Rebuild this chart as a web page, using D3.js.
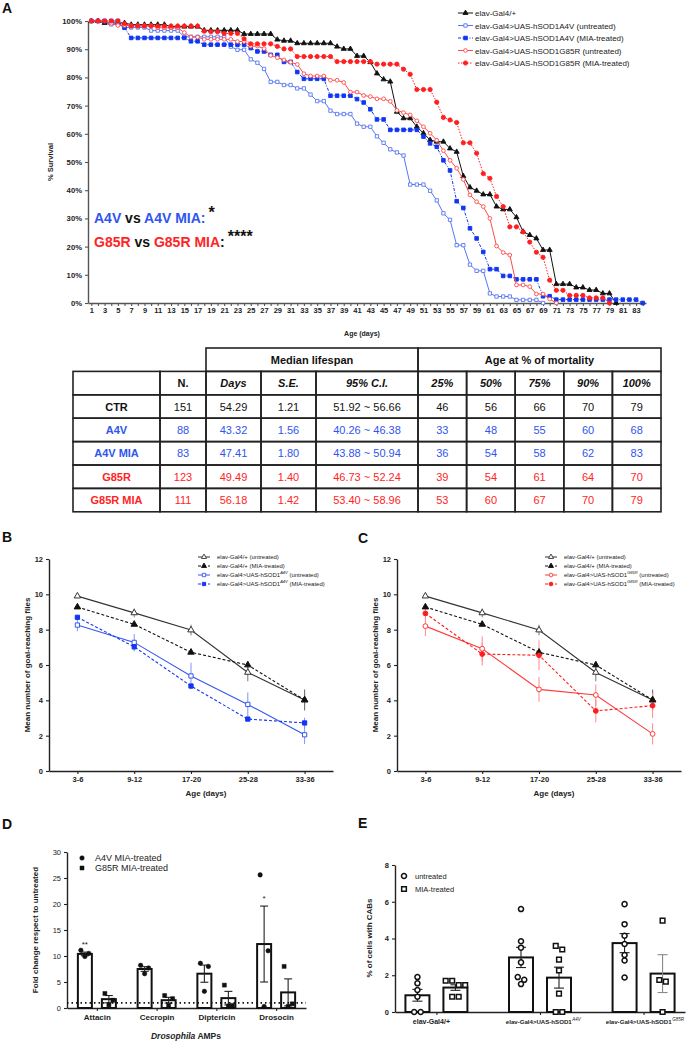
<!DOCTYPE html>
<html lang="en">
<head>
  <meta charset="UTF-8">
  <title>hSOD1 flies: survival, climbing, AMPs and CABs</title>
  <script src="https://d3js.org/d3.v7.min.js"></script>
  <style>
    body { margin: 0; background: #fff; }
    svg { display: block; font-family: "Liberation Sans", Arial, sans-serif; }
  </style>
</head>
<body>
<script>
  // ---------- A: survival (% alive, one value per day starting at day 1) ----------
  const survCtr = [100,100,99.3,99.3,99.3,99.3,98.7,98.7,98.7,98.7,
    98.7,98.7,98.0,98.0,98.0,98.0,98.0,96.7,96.7,96.7,
    96.7,96.7,96.7,95.4,95.4,95.4,95.4,95.4,93.4,93.0,
    93.0,92.1,92.1,92.1,92.1,92.1,92.1,90.9,90.1,90.1,
    87.6,87.6,85.4,81.4,79.3,78.5,67.8,65.5,65.5,62.5,
    60.2,57.8,57.2,57.2,54.8,53.6,45.0,41.0,39.8,38.5,
    38.5,34.2,33.2,33.2,30.4,25.3,24.1,22.9,18.8,18.8,
    6.7,6.7,6.7,5.5,5.5,4.6,4.6,3.4,3.4,0];
  const survA4V = [100,100,100,98.8,98.8,97.7,97.7,97.7,97.7,96.6,
    96.6,96.6,96.6,96.6,94.4,94.4,94.4,94.4,94.4,94.4,
    94.4,90.9,89.8,89.8,86.4,85.2,83.0,78.4,78.4,77.3,
    77.3,76.1,76.1,73.9,71.6,71.6,68.2,67.0,67.0,67.0,
    63.6,62.5,62.5,59.1,56.8,54.5,53.4,52.3,42.0,42.0,
    42.0,39.8,36.4,31.8,29.5,20.5,20.5,13.6,11.4,11.4,
    3.4,2.3,2.3,2.3,1.1,1.1,1.1,1.1,0];
  const survA4VMIA = [100,100,100,100,100,97.6,94.0,94.0,94.0,94.0,
    94.0,94.0,94.0,94.0,94.0,92.8,92.8,91.6,91.6,91.6,
    91.6,91.6,91.6,91.6,90.4,89.2,89.2,88.0,88.0,85.5,
    85.5,81.9,79.5,79.5,79.5,79.5,73.5,73.5,73.5,73.5,
    72.3,71.1,68.7,65.1,65.1,61.4,61.4,61.4,61.4,61.4,
    59.0,56.6,55.4,50.6,47.0,36.1,33.7,26.5,22.9,18.1,
    12.0,12.0,9.6,9.6,8.4,8.4,8.4,8.4,2.4,2.4,
    1.2,1.2,1.2,1.2,1.2,1.2,1.2,1.2,1.2,1.2,
    1.2,1.2,1.2,0];
  const survG85R = [100,100,100,99.2,98.4,98.4,98.4,98.4,98.4,98.4,
    97.6,97.6,97.6,97.6,95.9,94.3,94.3,93.5,93.5,93.5,
    93.5,93.5,92.7,92.7,91.1,91.1,90.2,87.8,87.0,86.2,
    85.4,84.6,81.3,80.5,80.5,80.5,79.0,79.0,78.2,74.8,
    74.8,73.6,73.2,72.4,72.4,71.5,68.3,67.5,66.7,64.6,
    62.5,60.2,57.7,54.0,50.6,47.8,43.8,38.3,35.9,34.2,
    30.0,20.2,17.9,17.0,6.4,6.4,5.8,3.2,3.2,1.4,0];
  const survG85RMIA = [100,100,100,100,100,99.1,98.2,98.2,98.2,98.2,
    98.2,98.2,98.2,98.2,98.2,98.2,98.2,96.4,96.2,96.2,
    95.6,95.6,95.6,93.7,91.9,91.9,91.9,91.9,91.0,90.1,
    90.1,87.4,87.4,87.4,87.4,87.4,87.4,85.6,85.6,85.6,
    85.6,85.6,85.6,84.7,84.7,84.7,84.7,82.9,81.1,75.7,
    75.7,75.7,71.2,65.8,64.9,64.0,56.8,56.8,53.1,45.9,
    44.2,37.8,34.2,27.0,27.0,25.2,21.6,18.0,16.2,8.1,
    4.5,4.5,2.7,2.7,2.7,1.8,1.8,1.8,0];

  // ---------- table under A ----------
  const tableRows = ['CTR', 'A4V', 'A4V MIA', 'G85R', 'G85R MIA'];
  const tableHead = ['', 'N.', 'Days', 'S.E.', '95% C.I.', '25%', '50%', '75%', '90%', '100%'];
  const nFlies = ['151', '88', '83', '123', '111'];
  const medDays = ['54.29', '43.32', '47.41', '49.49', '56.18'];
  const medSE = ['1.21', '1.56', '1.80', '1.40', '1.42'];
  const medCI = ['51.92 ~ 56.66', '40.26 ~ 46.38', '43.88 ~ 50.94', '46.73 ~ 52.24', '53.40 ~ 58.96'];
  const mortAge = [[46, 56, 66, 70, 79], [33, 48, 55, 60, 68], [36, 54, 58, 62, 83],
                   [39, 54, 61, 64, 70], [53, 60, 67, 70, 79]];

  // ---------- B / C: climbing ----------
  const ageGroups = ['3-6', '9-12', '17-20', '25-28', '33-36'];
  const climbCtr = [9.9, 8.95, 7.98, 5.58, 4.02];
  const climbCtrErr = [0.1, 0.25, 0.3, 0.5, 0.6];
  const climbCtrMIA = [9.28, 8.3, 6.72, 6.0, 4.02];
  const climbCtrMIAErr = [0.1, 0.1, 0.1, 0.2, 0.55];
  const climbA4V = [8.26, 7.28, 5.38, 3.77, 2.05];
  const climbA4VErr = [0.35, 0.47, 0.75, 0.68, 0.52];
  const climbA4VMIA = [8.7, 7.03, 4.81, 2.94, 2.72];
  const climbA4VMIAErr = [0.1, 0.25, 0.1, 0.1, 0.3];
  const climbG85R = [8.2, 6.92, 4.62, 4.3, 2.1];
  const climbG85RErr = [0.57, 0.7, 0.7, 0.6, 0.6];
  const climbG85RMIA = [8.92, 6.62, 6.55, 3.4, 3.7];
  const climbG85RMIAErr = [0.3, 0.65, 0.85, 0.65, 0.7];

  // ---------- D: AMPs fold change ----------
  const amps = ['Attacin', 'Cecropin', 'Diptericin', 'Drosocin'];
  const ampA4VMean = [10.4, 7.5, 6.6, 12.3];
  const ampA4VSem = [0.35, 0.45, 1.65, 7.3];
  const ampG85RMean = [1.7, 1.5, 1.9, 3.0];
  const ampG85RSem = [0.7, 0.55, 1.3, 2.6];
  const ampA4VPoints = [[11.1, 10.5, 9.9], [8.2, 7.7, 6.6], [8.6, 8.0, 3.2], [25.6, 11.0, 0.3]];
  const ampG85RPoints = [[2.8, 1.5, 0.6], [2.4, 1.8, 0.5], [4.4, 0.5, 0.4], [8.0, 0.8, 0.3]];
  const ampStars = ['**', '', '', '*'];

  // ---------- E: % cells with CABs ----------
  const cabGroups = ['ctr', 'A4V', 'G85R'];
  const cabLabels = [['elav-Gal4/+', ''], ['elav-Gal4>UAS-hSOD1', 'A4V'], ['elav-Gal4>UAS-hSOD1', 'G85R']];
  const cabUntrMean = [0.91, 2.97, 3.75];
  const cabUntrSem = [0.32, 0.55, 0.52];
  const cabMIAMean = [1.33, 1.87, 2.09];
  const cabMIASem = [0.15, 0.57, 1.03];
  const cabUntrPoints = [[1.9, 1.56, 1.2, 0.83, 0, 0], [5.6, 3.85, 3.5, 2.7, 1.9, 1.75, 1.52],
                         [5.87, 4.78, 4.15, 3.7, 3.1, 2.8, 1.88]];
  const cabMIAPoints = [[1.7, 1.7, 1.47, 1.47, 0.83, 0.83], [3.6, 3.4, 2.85, 2.27, 1.0, 0, 0],
                        [4.97, 1.74, 1.65, 0]];

  const BLUE = '#2f55ee', RED = '#ff2424';

  const svg = d3.select('body').append('svg').attr('width', 694).attr('height', 1043);
  svg.append('rect').attr('width', 694).attr('height', 1043).attr('fill', '#fff');

  function letter(t, x, y) {
    svg.append('text').attr('x', x).attr('y', y).text(t)
      .attr('font-size', 14).attr('font-weight', 'bold').attr('fill', '#111');
  }

  function styleAxis(g, size, bold, col) {
    g.attr('font-family', null).attr('font-size', null);
    g.select('.domain').attr('stroke', col || '#222').attr('stroke-width', 1.4);
    g.selectAll('.tick line').attr('stroke', col || '#222').attr('stroke-width', 1.1);
    g.selectAll('.tick text').attr('fill', '#222').attr('font-size', size)
      .attr('font-weight', bold ? 'bold' : 'normal');
  }

  function marker(g, type, x, y, size, color, filled, sw) {
    g.append('path').attr('d', d3.symbol().type(type).size(size)())
      .attr('transform', `translate(${x},${y})`)
      .attr('fill', filled ? color : '#fff')
      .attr('stroke', color).attr('stroke-width', sw || 1);
  }

  // label with an optional superscript part: main, sup, tail
  function supLabel(sel, main, sup, tail, supSize) {
    sel.append('tspan').text(main);
    if (sup) sel.append('tspan').text(sup).attr('font-size', supSize).attr('font-style', 'italic').attr('dy', -3);
    if (tail) sel.append('tspan').text(tail).attr('dy', sup ? 3 : 0);
  }

  // ================= Panel A =================
  letter('A', 2, 13);
  const xA = d3.scaleLinear().domain([0.5, 84.5]).range([88, 646]);
  const yA = d3.scaleLinear().domain([0, 100]).range([303, 21]);
  const gA = svg.append('g');

  gA.append('g').attr('transform', 'translate(88,0)')
    .call(d3.axisLeft(yA).tickValues(d3.range(0, 101, 10)).tickFormat(d => d + '%').tickSize(3).tickSizeOuter(0))
    .call(g => styleAxis(g, 7.7, true, '#555'));
  gA.append('g').attr('transform', 'translate(0,303)')
    .call(d3.axisBottom(xA).tickValues(d3.range(1, 85)).tickFormat(d => d % 2 ? d : '')
      .tickSize(3).tickSizeOuter(0).tickPadding(2))
    .call(g => styleAxis(g, 7.5, true, '#555'));

  gA.append('text').attr('transform', 'translate(53,162) rotate(-90)').attr('text-anchor', 'middle')
    .attr('font-size', 7.5).attr('font-weight', 'bold').attr('fill', '#222').text('% Survival');
  gA.append('text').attr('x', 362).attr('y', 336).attr('text-anchor', 'middle')
    .attr('font-size', 7).attr('font-weight', 'bold').attr('fill', '#222').text('Age (days)');

  const survSeries = [
    { vals: survCtr, color: '#111', dash: null, sym: d3.symbolTriangle, filled: true, size: 11,
      label: 'elav-Gal4/+' },
    { vals: survA4V, color: '#5877f2', dash: null, sym: d3.symbolSquare, filled: false, size: 11,
      label: 'elav-Gal4>UAS-hSOD1A4V (untreated)' },
    { vals: survA4VMIA, color: '#0f36f2', dash: '3,1.5,1,1.5', sym: d3.symbolSquare, filled: true, size: 13,
      label: 'elav-Gal4>UAS-hSOD1A4V (MIA-treated)' },
    { vals: survG85R, color: '#ff4a4a', dash: null, sym: d3.symbolCircle, filled: false, size: 11,
      label: 'elav-Gal4>UAS-hSOD1G85R (untreated)' },
    { vals: survG85RMIA, color: '#ff1f1f', dash: '1.5,1.5', sym: d3.symbolCircle, filled: true, size: 14,
      label: 'elav-Gal4>UAS-hSOD1G85R (MIA-treated)' }
  ];

  const survLine = d3.line().x((d, i) => xA(i + 1)).y(d => yA(d));
  survSeries.forEach(s => {
    gA.append('path').attr('d', survLine(s.vals)).attr('fill', 'none')
      .attr('stroke', s.color).attr('stroke-width', 1).attr('stroke-dasharray', s.dash);
    const mg = gA.append('g');
    s.vals.forEach((v, i) => marker(mg, s.sym, xA(i + 1), yA(v), s.size, s.color, s.filled, 0.9));
  });

  // legend
  const legA = gA.append('g');
  survSeries.forEach((s, i) => {
    const y = 13 + i * 12.5;
    legA.append('line').attr('x1', 458).attr('x2', 473).attr('y1', y).attr('y2', y)
      .attr('stroke', s.color).attr('stroke-width', 1).attr('stroke-dasharray', s.dash);
    marker(legA, s.sym, 465.5, y, s.size, s.color, s.filled, 0.9);
    legA.append('text').attr('x', 475).attr('y', y + 3).attr('font-size', 8).attr('fill', '#222').text(s.label);
  });

  // statistics note
  const noteA = gA.append('text').attr('x', 94).attr('y', 223).attr('font-size', 14).attr('font-weight', 'bold');
  noteA.append('tspan').attr('fill', BLUE).text('A4V');
  noteA.append('tspan').attr('fill', '#111').text(' vs ');
  noteA.append('tspan').attr('fill', BLUE).text('A4V MIA:');
  noteA.append('tspan').attr('fill', '#111').attr('dy', -5).attr('dx', 3).attr('font-size', 16).text('*');
  const noteB = gA.append('text').attr('x', 94).attr('y', 247).attr('font-size', 14).attr('font-weight', 'bold');
  noteB.append('tspan').attr('fill', RED).text('G85R');
  noteB.append('tspan').attr('fill', '#111').text(' vs ');
  noteB.append('tspan').attr('fill', RED).text('G85R MIA');
  noteB.append('tspan').attr('fill', '#111').text(':');
  noteB.append('tspan').attr('fill', '#111').attr('dy', -5).attr('dx', 3).attr('font-size', 16).text('****');

  // ================= Table =================
  const tCols = [73, 160, 206, 261, 316, 418, 466.6, 515.2, 563.8, 612.4, 661];
  const tTop = 348, tRow = 23.4;
  const tbl = svg.append('g');
  const rowColors = ['#111', BLUE, BLUE, RED, RED];

  function cell(c0, c1, r) {
    tbl.append('rect').attr('x', tCols[c0]).attr('y', tTop + r * tRow)
      .attr('width', tCols[c1] - tCols[c0]).attr('height', tRow)
      .attr('fill', 'none').attr('stroke', '#222').attr('stroke-width', 1.6);
  }
  function ctext(t, c0, c1, r, opts) {
    tbl.append('text').attr('x', (tCols[c0] + tCols[c1]) / 2).attr('y', tTop + r * tRow + tRow / 2 + 4)
      .attr('text-anchor', 'middle').attr('font-size', 11)
      .attr('font-weight', opts.bold ? 'bold' : 'normal')
      .attr('font-style', opts.italic ? 'italic' : 'normal')
      .attr('fill', opts.fill || '#111').text(t);
  }

  cell(2, 5, 0); cell(5, 10, 0);
  ctext('Median lifespan', 2, 5, 0, { bold: true });
  ctext('Age at % of mortality', 5, 10, 0, { bold: true });
  tableHead.forEach((h, c) => {
    cell(c, c + 1, 1);
    ctext(h, c, c + 1, 1, { bold: true, italic: c > 1 });
  });
  tableRows.forEach((name, r) => {
    const fill = rowColors[r];
    const vals = [nFlies[r], medDays[r], medSE[r], medCI[r]].concat(mortAge[r].map(String));
    for (let c = 0; c < 10; c++) cell(c, c + 1, r + 2);
    ctext(name, 0, 1, r + 2, { bold: true, fill });
    vals.forEach((v, c) => ctext(v, c + 1, c + 2, r + 2, { fill }));
  });

  // ================= Panels B and C =================
  const ctrSeries = [
    { vals: climbCtr, err: climbCtrErr, color: '#333', errColor: '#777', dash: null,
      sym: d3.symbolTriangle, filled: false, label: ['elav-Gal4/+ (untreated)'] },
    { vals: climbCtrMIA, err: climbCtrMIAErr, color: '#111', errColor: '#777', dash: '3,2',
      sym: d3.symbolTriangle, filled: true, label: ['elav-Gal4/+ (MIA-treated)'] }
  ];
  const seriesB = ctrSeries.concat([
    { vals: climbA4V, err: climbA4VErr, color: '#3556f2', errColor: '#8094f5', dash: null,
      sym: d3.symbolSquare, filled: false, label: ['elav-Gal4>UAS-hSOD1', 'A4V', ' (untreated)'] },
    { vals: climbA4VMIA, err: climbA4VMIAErr, color: '#1535f0', errColor: '#8094f5', dash: '3,2',
      sym: d3.symbolSquare, filled: true, label: ['elav-Gal4>UAS-hSOD1', 'A4V', ' (MIA-treated)'] }
  ]);
  const seriesC = ctrSeries.concat([
    { vals: climbG85R, err: climbG85RErr, color: '#ff3b3b', errColor: '#ff8a8a', dash: null,
      sym: d3.symbolCircle, filled: false, label: ['elav-Gal4>UAS-hSOD1', 'G85R', ' (untreated)'] },
    { vals: climbG85RMIA, err: climbG85RMIAErr, color: '#ff1c1c', errColor: '#ff8a8a', dash: '3,2',
      sym: d3.symbolCircle, filled: true, label: ['elav-Gal4>UAS-hSOD1', 'G85R', ' (MIA-treated)'] }
  ]);

  function climbPanel(x0, x1, series, legX) {
    const g = svg.append('g');
    const x = d3.scalePoint().domain(ageGroups).range([x0, x1]).padding(0.5);
    const y = d3.scaleLinear().domain([0, 12]).range([771, 559]);

    g.append('g').attr('transform', `translate(${x0},0)`)
      .call(d3.axisLeft(y).tickValues([0, 2, 4, 6, 8, 10, 12]).tickSize(3).tickSizeOuter(0))
      .call(a => styleAxis(a, 7.5, true));
    g.append('g').attr('transform', 'translate(0,771)')
      .call(d3.axisBottom(x).tickSize(3).tickSizeOuter(0).tickPadding(3))
      .call(a => styleAxis(a, 7.5, true));

    g.append('text').attr('transform', `translate(${x0 - 19},665) rotate(-90)`).attr('text-anchor', 'middle')
      .attr('font-size', 8).attr('font-weight', 'bold').attr('fill', '#222')
      .text('Mean number of goal-reaching flies');
    g.append('text').attr('x', (x0 + x1) / 2 + 15).attr('y', 796).attr('text-anchor', 'middle')
      .attr('font-size', 8).attr('font-weight', 'bold').attr('fill', '#222').text('Age (days)');

    const line = d3.line().x((d, i) => x(ageGroups[i])).y(d => y(d));
    series.forEach(s => {
      s.vals.forEach((v, i) => {
        g.append('line').attr('x1', x(ageGroups[i])).attr('x2', x(ageGroups[i]))
          .attr('y1', y(v - s.err[i])).attr('y2', y(v + s.err[i]))
          .attr('stroke', s.errColor).attr('stroke-width', 1);
      });
    });
    series.forEach(s => {
      g.append('path').attr('d', line(s.vals)).attr('fill', 'none')
        .attr('stroke', s.color).attr('stroke-width', 1.1).attr('stroke-dasharray', s.dash);
      s.vals.forEach((v, i) => marker(g, s.sym, x(ageGroups[i]), y(v), 18, s.color, s.filled, 1));
    });

    // legend
    series.forEach((s, i) => {
      const ly = 557 + i * 9;
      g.append('line').attr('x1', legX - 6).attr('x2', legX + 6).attr('y1', ly).attr('y2', ly)
        .attr('stroke', s.color).attr('stroke-width', 1).attr('stroke-dasharray', s.dash);
      marker(g, s.sym, legX, ly, 11, s.color, s.filled, 0.9);
      const t = g.append('text').attr('x', legX + 13).attr('y', ly + 2).attr('font-size', 6).attr('fill', '#222');
      supLabel(t, s.label[0], s.label[1], s.label[2], 4);
    });
  }

  letter('B', 2, 542);
  climbPanel(49, 333, seriesB, 204);
  letter('C', 358, 543);
  climbPanel(397, 681, seriesC, 551);

  // ================= Panel D =================
  letter('D', 2, 829);
  const gD = svg.append('g');
  const xD = d3.scalePoint().domain(amps).range([67, 306]).padding(0.5);
  const yD = d3.scaleLinear().domain([0, 30]).range([1008, 852]);
  const dOff = 12, dBarW = 14, dJit = [-4, 4, 0];

  gD.append('g').attr('transform', 'translate(67,0)')
    .call(d3.axisLeft(yD).tickValues([0, 5, 10, 15, 20, 25, 30]).tickSize(3).tickSizeOuter(0))
    .call(a => styleAxis(a, 7.5, false));
  gD.append('g').attr('transform', 'translate(0,1008)')
    .call(d3.axisBottom(xD).tickSize(3).tickSizeOuter(0).tickPadding(3))
    .call(a => styleAxis(a, 8, true));

  gD.append('text').attr('transform', 'translate(38,930) rotate(-90)').attr('text-anchor', 'middle')
    .attr('font-size', 8).attr('font-weight', 'bold').attr('fill', '#222').text('Fold change respect to untreated');
  const dLab = gD.append('text').attr('x', 186).attr('y', 1039).attr('text-anchor', 'middle')
    .attr('font-size', 8.5).attr('font-weight', 'bold').attr('fill', '#222');
  dLab.append('tspan').attr('font-style', 'italic').text('Drosophila');
  dLab.append('tspan').text(' AMPs');

  function barSet(g, xc, mean, sem, pts, y, w, capW, sym, symSize, filled, errColor, jit) {
    g.append('rect').attr('x', xc - w / 2).attr('y', y(mean)).attr('width', w).attr('height', y(0) - y(mean))
      .attr('fill', '#fff').attr('stroke', '#111').attr('stroke-width', 2);
    const lo = mean - sem, hi = mean + sem;
    g.append('line').attr('x1', xc).attr('x2', xc).attr('y1', y(Math.max(lo, 0))).attr('y2', y(hi))
      .attr('stroke', errColor).attr('stroke-width', 1.1);
    [lo, hi].forEach(v => g.append('line').attr('x1', xc - capW / 2).attr('x2', xc + capW / 2)
      .attr('y1', y(v)).attr('y2', y(v)).attr('stroke', errColor).attr('stroke-width', 1.1));
    pts.forEach((v, i) => marker(g, sym, xc + jit[i], y(v), symSize, '#111', filled, filled ? 0.5 : 1.5));
  }

  amps.forEach((a, i) => {
    const xc = xD(a);
    barSet(gD, xc - dOff, ampA4VMean[i], ampA4VSem[i], ampA4VPoints[i], yD, dBarW, 8,
      d3.symbolCircle, 16, true, '#222', dJit);
    barSet(gD, xc + dOff, ampG85RMean[i], ampG85RSem[i], ampG85RPoints[i], yD, dBarW, 8,
      d3.symbolSquare, 16, true, '#222', dJit);
    if (ampStars[i]) {
      gD.append('text').attr('x', xc - dOff).attr('y', yD(ampA4VMean[i] + ampA4VSem[i]) - 5)
        .attr('text-anchor', 'middle').attr('font-size', 8).attr('fill', '#222').text(ampStars[i]);
    }
  });
  // reference line at fold change = 1
  gD.append('line').attr('x1', 67).attr('x2', 306).attr('y1', yD(1)).attr('y2', yD(1))
    .attr('stroke', '#111').attr('stroke-width', 1.8).attr('stroke-dasharray', '1.5,3');

  marker(gD, d3.symbolCircle, 82, 858, 16, '#111', true, 0.5);
  gD.append('text').attr('x', 95).attr('y', 861).attr('font-size', 9).attr('fill', '#222').text('A4V MIA-treated');
  marker(gD, d3.symbolSquare, 82, 868, 16, '#111', true, 0.5);
  gD.append('text').attr('x', 95).attr('y', 871).attr('font-size', 9).attr('fill', '#222').text('G85R MIA-treated');

  // ================= Panel E =================
  letter('E', 358, 828);
  const gE = svg.append('g');
  const xE = d3.scalePoint().domain(cabGroups).range([395, 685]).padding(0.4);
  const yE = d3.scaleLinear().domain([0, 8]).range([1012, 865]);
  const eOff = 19, eBarW = 24;

  gE.append('g').attr('transform', 'translate(395,0)')
    .call(d3.axisLeft(yE).tickValues([0, 2, 4, 6, 8]).tickSize(3).tickSizeOuter(0))
    .call(a => styleAxis(a, 7.5, true));
  gE.append('g').attr('transform', 'translate(0,1012)')
    .call(d3.axisBottom(xE).tickSize(3).tickSizeOuter(0).tickFormat(''))
    .call(a => styleAxis(a, 7, true));

  gE.append('text').attr('transform', 'translate(372,938) rotate(-90)').attr('text-anchor', 'middle')
    .attr('font-size', 8).attr('font-weight', 'bold').attr('fill', '#222').text('% of cells with CABs');

  // group labels: main text plus a separate superscript text, centred together
  const eLabelSize = [7, 6.1, 6.1], eLabelShift = [-5, 3, 1];
  cabGroups.forEach((grp, i) => {
    const [main, sup] = cabLabels[i];
    const mt = gE.append('text').attr('y', 1024).attr('font-size', eLabelSize[i])
      .attr('font-weight', 'bold').attr('fill', '#222').text(main);
    const st = gE.append('text').attr('y', 1020.5).attr('font-size', 4.5)
      .attr('font-style', 'italic').attr('fill', '#222').text(sup);
    const mw = mt.node().getComputedTextLength(), sw = st.node().getComputedTextLength();
    const x0 = xE(grp) + eLabelShift[i] - (mw + sw) / 2;
    mt.attr('x', x0);
    st.attr('x', x0 + mw + 0.5);
  });

  // spread points with nearly equal values side by side
  function spread(vals, gap, tol) {
    const offs = vals.map(() => 0), used = vals.map(() => false);
    vals.forEach((v, i) => {
      if (used[i]) return;
      const grp = vals.map((w, j) => j).filter(j => !used[j] && Math.abs(vals[j] - v) < tol);
      grp.forEach((j, k) => { used[j] = true; offs[j] = (k - (grp.length - 1) / 2) * gap; });
    });
    return offs;
  }

  cabGroups.forEach((grp, i) => {
    const xc = xE(grp);
    barSet(gE, xc - eOff, cabUntrMean[i], cabUntrSem[i], cabUntrPoints[i], yE, eBarW, 10,
      d3.symbolCircle, 20, false, '#222', spread(cabUntrPoints[i], 6.5, 0.25));
    barSet(gE, xc + eOff, cabMIAMean[i], cabMIASem[i], cabMIAPoints[i], yE, eBarW, 10,
      d3.symbolSquare, 22, false, i === 2 ? '#888' : '#222', spread(cabMIAPoints[i], 6.5, 0.25));
  });

  marker(gE, d3.symbolCircle, 404, 876, 20, '#111', false, 1.5);
  gE.append('text').attr('x', 415).attr('y', 879).attr('font-size', 7.5).attr('fill', '#222').text('untreated');
  marker(gE, d3.symbolSquare, 404, 889, 22, '#111', false, 1.5);
  gE.append('text').attr('x', 415).attr('y', 892).attr('font-size', 7.5).attr('fill', '#222').text('MIA-treated');
</script>
</body>
</html>
